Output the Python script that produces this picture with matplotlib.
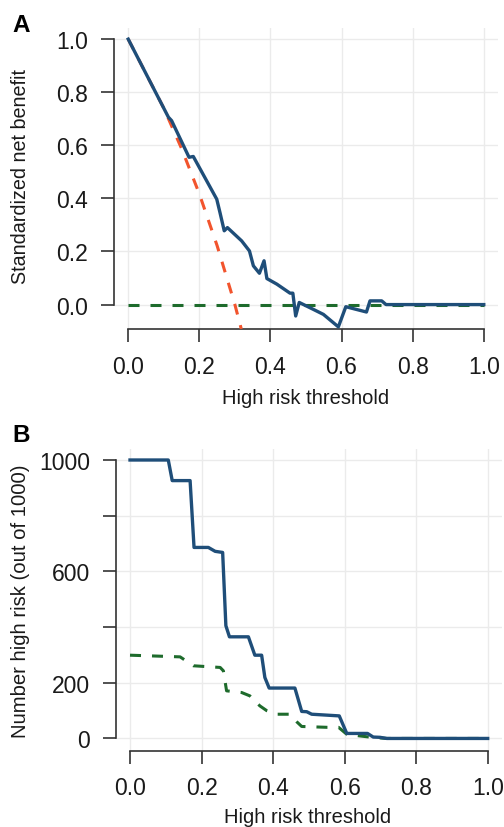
import matplotlib.pyplot as plt

plt.rcParams['font.family'] = ['Liberation Sans', 'DejaVu Sans']

# Panel A: standardized net benefit
a_model_x = [0.0, 0.113, 0.122, 0.171, 0.183, 0.249, 0.258, 0.270, 0.279, 0.319, 0.341,
             0.352, 0.369, 0.382, 0.390, 0.418, 0.455, 0.463, 0.471, 0.481, 0.516, 0.549,
             0.591, 0.612, 0.670, 0.680, 0.713, 0.725, 1.0]
a_model_y = [1.0, 0.706, 0.693, 0.555, 0.558, 0.397, 0.347, 0.278, 0.290, 0.240, 0.202,
             0.146, 0.118, 0.165, 0.098, 0.077, 0.043, 0.043, -0.043, 0.008, -0.015, -0.037,
             -0.084, -0.008, -0.028, 0.014, 0.014, 0.0, 0.0]
a_all_x = [0.0, 0.05, 0.10, 0.15, 0.20, 0.25, 0.30, 0.318]
a_all_y = [1.0, 0.870, 0.740, 0.588, 0.417, 0.222, 0.0, -0.092]
a_none_x = [0.0, 1.0]
a_none_y = [0.0, 0.0]

# Panel B: number high risk (out of 1000)
b_risk_x = [0.0, 0.107, 0.118, 0.168, 0.179, 0.219, 0.238, 0.259, 0.268, 0.278, 0.331,
            0.349, 0.368, 0.377, 0.389, 0.461, 0.480, 0.494, 0.508, 0.585, 0.606, 0.664,
            0.680, 0.699, 0.718, 1.0]
b_risk_y = [1000, 1000, 926, 926, 686, 686, 672, 668, 405, 365, 365,
            299, 299, 219, 181, 181, 97, 96, 87, 81, 18, 18,
            5, 4, 0, 0]
b_tp_x = [0.0, 0.140, 0.177, 0.252, 0.261, 0.270, 0.312, 0.335, 0.363, 0.382, 0.410,
          0.447, 0.466, 0.480, 0.550, 0.583, 0.606, 0.643, 0.676, 0.718, 1.0]
b_tp_y = [299, 293, 261, 255, 243, 171, 165, 153, 117, 100, 87,
          87, 60, 43, 40, 40, 15, 9, 4, 0, 0]

x_ticks = [0.0, 0.2, 0.4, 0.6, 0.8, 1.0]
x_labels = ['0.0', '0.2', '0.4', '0.6', '0.8', '1.0']
a_yticks = [0.0, 0.2, 0.4, 0.6, 0.8, 1.0]
a_ylabels = ['0.0', '0.2', '0.4', '0.6', '0.8', '1.0']
b_yticks = [0, 200, 400, 600, 800, 1000]
b_ylabels = ['0', '200', '', '600', '', '1000']

BLUE = '#1F4E79'
RED = '#F2542D'
GREEN = '#1E6B2C'
GRID = '#EBEBEB'
AXC = '#333333'

W, H = 504, 828
fig = plt.figure(figsize=(W / 100, H / 100), dpi=100)


def px_axes(left, top, right, bottom):
    return fig.add_axes([left / W, 1 - bottom / H, (right - left) / W, (bottom - top) / H])


def style(ax, yticks, ylabels, ybounds):
    ax.set_xticks(x_ticks)
    ax.set_xticklabels(x_labels)
    ax.set_yticks(yticks)
    ax.set_yticklabels(ylabels)
    ax.grid(True, color=GRID, linewidth=1.0, zorder=0)
    ax.set_axisbelow(True)
    for s in ['top', 'right']:
        ax.spines[s].set_visible(False)
    for s in ['left', 'bottom']:
        ax.spines[s].set_color(AXC)
        ax.spines[s].set_linewidth(1.2)
    ax.spines['bottom'].set_bounds(0, 1)
    ax.spines['left'].set_bounds(*ybounds)
    ax.tick_params(direction='out', length=9.5, width=1.2, color=AXC,
                   labelsize=16.5, labelcolor='#1a1a1a')
    ax.tick_params(axis='x', pad=9)
    ax.tick_params(axis='y', pad=9)


# ---- Panel A
ax1 = px_axes(114, 29, 498, 330)
ax1.plot(a_all_x, a_all_y, color=RED, lw=2.2, dashes=(3.6, 3.6), zorder=3)
ax1.plot(a_none_x, a_none_y, color=GREEN, lw=2.2, dashes=(3.6, 3.6), zorder=3)
ax1.plot(a_model_x, a_model_y, color=BLUE, lw=2.4, zorder=4)
ax1.set_xlim(-0.04, 1.04)
ax1.set_ylim(-0.092, 1.042)
style(ax1, a_yticks, a_ylabels, (0, 1))

# ---- Panel B
ax2 = px_axes(115.7, 450, 502, 751.7)
ax2.plot(b_tp_x, b_tp_y, color=GREEN, lw=2.2, dashes=(3.6, 3.6), zorder=3)
ax2.plot(b_risk_x, b_risk_y, color=BLUE, lw=2.4, zorder=4)
ax2.set_xlim(-0.04, 1.04)
ax2.set_ylim(-44, 1039.5)
style(ax2, b_yticks, b_ylabels, (0, 1000))

# labels
fig.text(306 / W, 1 - 399 / H, 'High risk threshold', ha='center', va='center',
         fontsize=14.5, color='#1a1a1a')
fig.text(308 / W, 1 - 818 / H, 'High risk threshold', ha='center', va='center',
         fontsize=14.5, color='#1a1a1a')
fig.text(20.5 / W, 1 - 177 / H, 'Standardized net benefit', rotation=90,
         ha='center', va='center', fontsize=14.2, color='#1a1a1a')
fig.text(20.5 / W, 1 - 601 / H, 'Number high risk (out of 1000)', rotation=90,
         ha='center', va='center', fontsize=14.6, color='#1a1a1a')
fig.text(21 / W, 1 - 26 / H, 'A', ha='center', va='center', fontsize=17.5,
         fontweight='bold', color='black')
fig.text(21 / W, 1 - 436 / H, 'B', ha='center', va='center', fontsize=17.5,
         fontweight='bold', color='black')

fig.savefig('out.png', dpi=100)
